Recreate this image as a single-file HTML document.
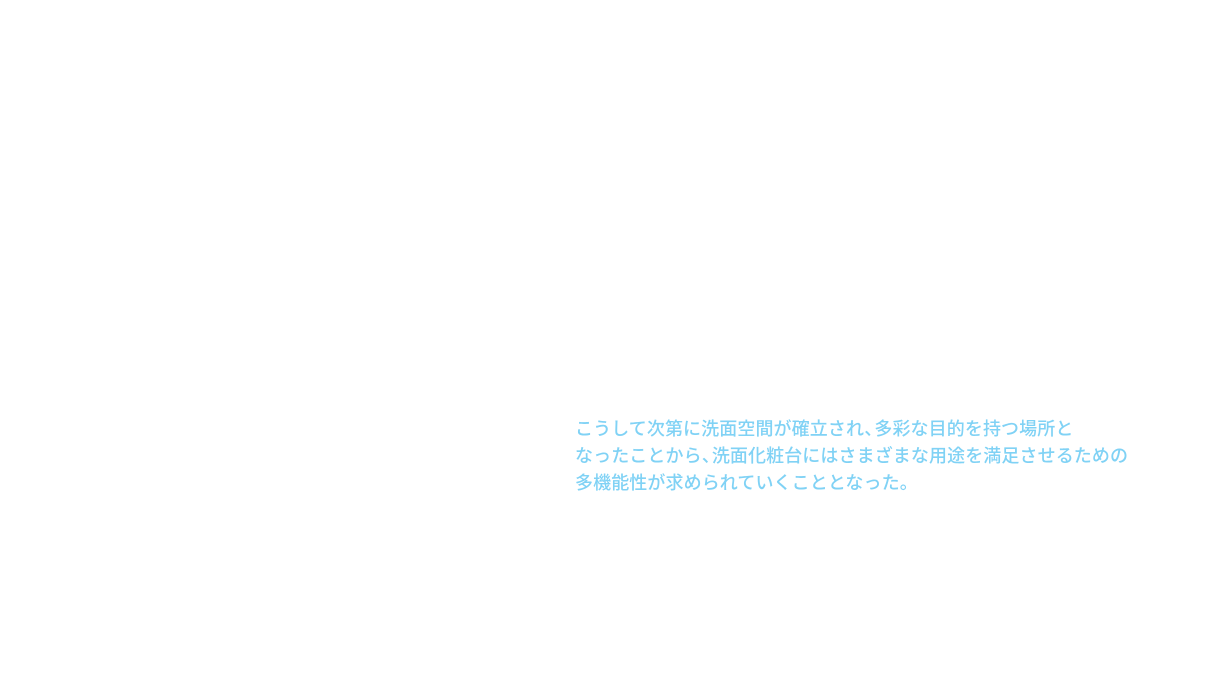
<!DOCTYPE html>
<html><head><meta charset="utf-8"><style>
body{margin:0;width:1216px;height:698px;background:#fff;overflow:hidden}
.t{position:absolute;left:575px;top:416px;font-family:"Liberation Sans","Noto Sans CJK JP",sans-serif;font-size:18px;font-weight:500;line-height:27px;letter-spacing:0.1px;color:#80d2f5;white-space:nowrap}
.c{margin-right:-8px}
</style></head><body>
<div class="t">こうして次第に洗面空間が確立され<span class="c">、</span>多彩な目的を持つ場所と<br>なったことから<span class="c">、</span>洗面化粧台にはさまざまな用途を満足させるための<br>多機能性が求められていくこととなった。</div>
</body></html>
